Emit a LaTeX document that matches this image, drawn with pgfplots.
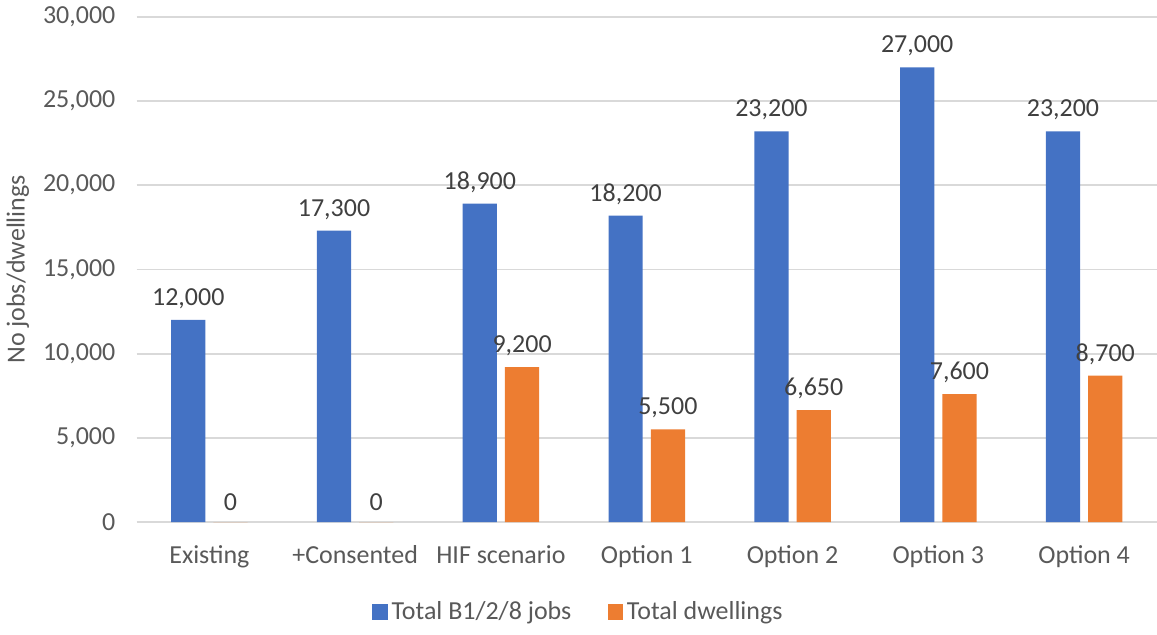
\documentclass[border=0pt]{standalone}
\usepackage{fontspec}
\setmainfont{Carlito}
\usepackage{pgfplots}
\pgfplotsset{compat=1.18}
\definecolor{jobsblue}{HTML}{4472C4}
\definecolor{dwellorange}{HTML}{ED7D31}
\definecolor{gridgray}{HTML}{D9D9D9}
\definecolor{ticktext}{HTML}{595959}
\definecolor{labeltext}{HTML}{404040}
\begin{document}
\begin{tikzpicture}[trim axis right]
\begin{axis}[
    scale only axis,
    width=507pt, height=251pt,
    ybar, bar width=17pt,
    xmin=-0.5, xmax=6.5,
    ymin=0, ymax=30000,
    ytick={0,5000,...,30000},
    xtick=data,
    xticklabels={Existing, +Consented, HIF scenario, Option 1, Option 2, Option 3, Option 4},
    /pgf/number format/assume math mode=true,
    /pgf/number format/1000 sep={,},
    scaled y ticks=false,
    ymajorgrids, grid style={gridgray, line width=0.9pt},
    axis line style={draw=none},
    major tick length=0pt,
    tick label style={font=\fontsize{12.9}{15}\selectfont, text=ticktext},
    yticklabel style={xshift=-7pt},
    xticklabel style={yshift=-8pt},
    ylabel={No jobs/dwellings},
    ylabel style={font=\fontsize{12.9}{15}\selectfont, text=ticktext},
    nodes near coords,
    nodes near coords style={font=\fontsize{12.9}{15}\selectfont, text=labeltext, yshift=2pt},
    legend columns=2,
    legend style={draw=none, fill=none, font=\fontsize{12.9}{15}\selectfont, text=ticktext,
        inner ysep=4pt,
        at={(0.434,-0.178)}, anchor=center, /tikz/every even column/.append style={column sep=16pt}},
    legend image code/.code={\fill[#1] (0pt,-3.8pt) rectangle (7.6pt,3.8pt);},
]
\addplot[fill=jobsblue, draw=none, bar shift=-10.5pt] coordinates {(0,12000) (1,17300) (2,18900) (3,18200) (4,23200) (5,27000) (6,23200)};
\addplot[fill=dwellorange, draw=none, bar shift=10.5pt] coordinates {(0,0) (1,0) (2,9200) (3,5500) (4,6650) (5,7600) (6,8700)};
\legend{Total B1/2/8 jobs, Total dwellings}
\end{axis}
\end{tikzpicture}
\end{document}
